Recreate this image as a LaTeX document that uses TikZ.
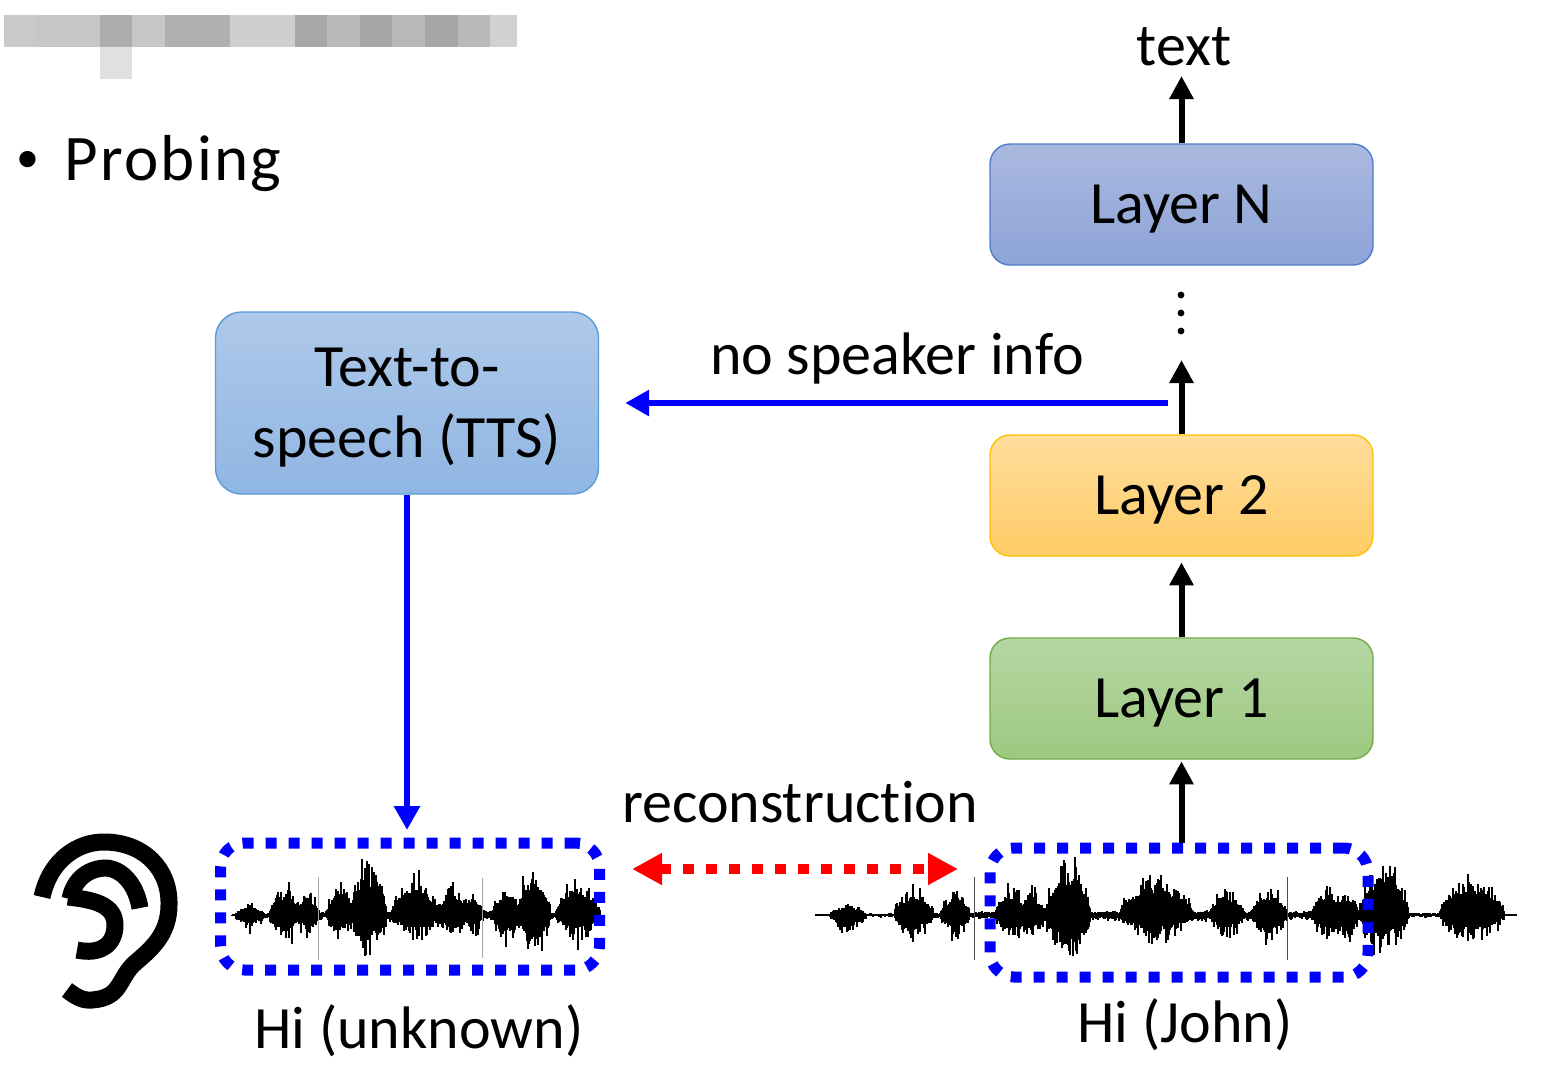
\documentclass[tikz,border=0pt]{standalone}
\usepackage{fontspec}
\setmainfont{Carlito}[RawFeature={-liga}]
\usepackage{xcolor}
\usepackage{tikz}
\usetikzlibrary{positioning,arrows.meta}

\definecolor{layerNtop}{HTML}{AAB9DF}
\definecolor{layerNbot}{HTML}{8DA4D8}
\definecolor{layerNline}{HTML}{4F7BCB}
\definecolor{layerTwotop}{HTML}{FFDD9C}
\definecolor{layerTwobot}{HTML}{FFCC66}
\definecolor{layerTwoline}{HTML}{FFC000}
\definecolor{layerOnetop}{HTML}{B6D6A3}
\definecolor{layerOnebot}{HTML}{9CC980}
\definecolor{layerOneline}{HTML}{70AD47}
\definecolor{ttstop}{HTML}{AEC9E9}
\definecolor{ttsbot}{HTML}{90B6E3}
\definecolor{ttsline}{HTML}{5B9BD5}
\definecolor{boxblue}{HTML}{0000FF}

\tikzset{
  slidetext/.style={font=\fontsize{30}{36}\selectfont, inner sep=0pt, align=center},
  layerbox/.style={rounded corners=10pt, line width=0.7pt, minimum width=191.5pt, minimum height=60.5pt, inner sep=0pt, slidetext, text depth=0pt},
  upline/.style={line width=3pt, xshift=0.75pt, -{Triangle[length=11.5pt,width=11.5pt]}},
  blueline/.style={line width=3pt, boxblue, -{Triangle[length=12pt,width=12.5pt]}},
  dotbox/.style={draw=boxblue, line width=5.5pt, rounded corners=12pt, dash pattern=on 5.5pt off 6pt, inner sep=0pt},
  recline/.style={line width=5pt, red, dash pattern=on 5.5pt off 6pt, {Triangle[length=15pt,width=15pt]}-{Triangle[length=15pt,width=15pt]}},
  earline/.style={line width=8.5pt, black},
}

% one speech waveform: from, to, bursts x/half width/up/down
\newcommand{\speechwave}[3]{
  \draw[line width=1.2pt] (#1,915) -- (#2,915);
  \foreach \cx/\hw/\up/\dn in {#3} {
    \pgfmathtruncatemacro{\num}{2*\hw}
    \foreach \k in {0,...,\num} {
      \pgfmathsetmacro{\xx}{\cx-\hw+\k}
      \pgfmathsetmacro{\env}{(1-abs(\xx-\cx)/(\hw+1))^0.5}
      \pgfmathsetmacro{\ya}{915-\up*\env*(0.4+0.6*rnd*rnd)}
      \pgfmathsetmacro{\yb}{915+\dn*\env*(0.3+0.7*rnd*rnd)}
      \draw[line width=0.65pt] (\xx,\ya) -- (\xx,\yb);
    }
  }
}

\begin{document}
\begin{tikzpicture}[x=0.5pt, y=-0.5pt]
  \useasboundingbox (0,0) rectangle (1549,1067);

  % Blurred title
  \foreach \xa/\xb/\g in {4/37/21, 37/100/22, 100/132/32, 132/165/22, 165/230/31, 230/295/19,
      295/327/34, 327/360/27, 360/392/35, 392/425/28, 425/458/35, 458/490/27, 490/517/18} {
    \fill[black!\g!white] (\xa,15) rectangle (\xb,47);
  }
  \fill[black!12!white] (100,47) rectangle (132,79);

  % Bullet
  \node[slidetext, font=\fontsize{32.5}{36}\selectfont, anchor=base west] (probing) at (64,180) {\addfontfeature{LetterSpace=3.5}Probing};
  \node[slidetext, font=\fontsize{23}{26}\selectfont, anchor=base] (bullet) at (28,172) {•};

  % Layers
  \node[layerbox, draw=layerNline, top color=layerNtop, bottom color=layerNbot] (layerN) at (1181.5,204.5) {Layer N};
  \node[layerbox, draw=layerTwoline, top color=layerTwotop, bottom color=layerTwobot] (layer2) at (1181.5,495.5) {Layer 2};
  \node[layerbox, draw=layerOneline, top color=layerOnetop, bottom color=layerOnebot] (layer1) at (1181.5,698.5) {Layer 1};
  \node[layerbox, draw=ttsline, top color=ttstop, bottom color=ttsbot, minimum height=91pt, rounded corners=13pt] (tts) at (407,403)
    {Text-to-\\[-0.5pt]speech (TTS)};

  % Waveforms
  \pgfmathsetseed{7}
  \speechwave{232}{600}{416/184/7/9, 250/14/14/22, 286/16/38/38, 308/11/34/32, 340/13/38/38, 368/18/72/56,
    416/24/52/38, 452/13/38/34, 472/11/32/30, 506/13/38/40, 534/16/72/56, 578/22/48/38}
  \speechwave{815}{1517}{1166/335/6/8, 848/18/14/24, 914/19/38/38, 955/14/34/38, 1012/16/38/38, 1032/12/34/38,
    1068/22/74/66, 1157/36/54/38, 1227/17/38/34, 1269/18/36/38, 1327/14/38/38, 1346/12/34/38,
    1384/24/74/56, 1472/32/50/38}
  \foreach \x/\a/\b in {318/877/960, 482/878/958} {
    \draw[line width=0.5pt, gray!70] (\x,\a) -- (\x,\b);
  }
  \foreach \x/\a/\b in {974/877/960, 1287/877/960} {
    \draw[line width=0.5pt, black!70] (\x,\a) -- (\x,\b);
  }

  % Dotted boxes
  \node[dotbox, minimum width=189.5pt, minimum height=63.5pt] (leftbox) at (410,906.5) {};
  \node[dotbox, minimum width=189pt, minimum height=64.5pt] (rightbox) at (1179,912.5) {};

  % Labels
  \node[slidetext] (textout) at (1184,47) {text};
  \node[slidetext] (speakerlab) at (897,358) {no speaker info};
  \node[slidetext] (reclab) at (800,802) {reconstruction};
  \node[slidetext] (unknownlab) at (419,1031) {Hi (unknown)};
  \node[slidetext] (johnlab) at (1185,1025) {Hi (John)};

  % Free ends
  \coordinate (textend) at (1183,76);
  \coordinate (midend) at (1183,360);
  \coordinate (tapstart) at (1168,403);
  \coordinate (recleft) at (632,869);
  \coordinate (recright) at (958,869);

  % Arrows
  \draw[upline] (rightbox.north -| layer1.south) -- ([yshift=-0.8pt]layer1.south);
  \draw[upline] (layer1.north) -- ([yshift=-2.8pt]layer2.south);
  \draw[upline] (layer2.north) -- (midend -| layer2.north);
  \draw[upline] (layerN.north) -- (textend -| layerN.north);
  \draw[blueline] (tapstart) -- ([xshift=13pt]tts.east);
  \draw[blueline] (tts.south) -- ([yshift=3.75pt]leftbox.north -| tts.south);
  \draw[recline] (recleft) -- (recright);

  % Dots between layers
  \foreach \y in {295,313,331} {
    \fill (1181,\y) circle (1.7pt);
  }

  % Ear
  \draw[earline] (42,897) .. controls (50,860) and (78,841) .. (106,842)
    .. controls (145,843) and (170,870) .. (169,905)
    .. controls (169,935) and (150,950) .. (135,963)
    .. controls (118,978) and (122,998) .. (92,1000)
    .. controls (82,1001) and (75,996) .. (67,990);
  \draw[earline] (140,908) .. controls (136,884) and (122,869) .. (106,868)
    .. controls (90,868) and (74,878) .. (70,899);
  \draw[earline] (68,897) .. controls (95,900) and (115,905) .. (115,925)
    .. controls (115,945) and (100,955) .. (77,950);
\end{tikzpicture}
\end{document}
